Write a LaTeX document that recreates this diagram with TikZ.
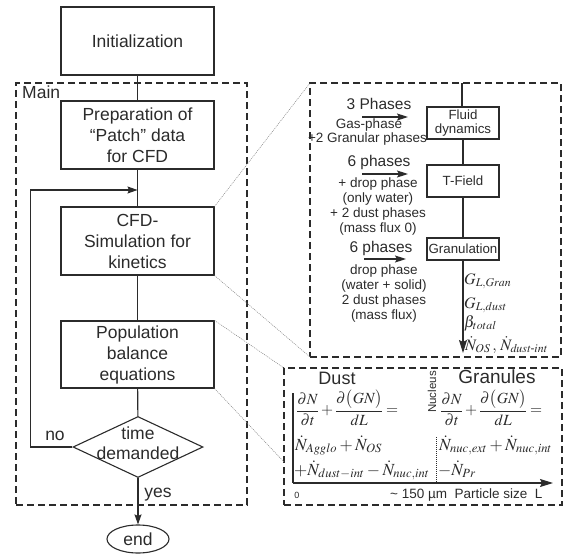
\documentclass[tikz,border=0pt]{standalone}
\usepackage{amsmath}
\usepackage{mathptmx}
\usepackage{fontspec}
\setmainfont{Liberation Sans}
\usetikzlibrary{arrows.meta,shapes.geometric,calc}
\definecolor{ink}{HTML}{2B2B2B}
\newcommand{\pdeq}{\medmuskip=2mu\relax\thickmuskip=3mu\relax\displaystyle \frac{\partial N}{\partial t}+\frac{\partial\bigl(GN\bigr)}{dL}=}
\begin{document}
\begin{tikzpicture}[x=1pt,y=-1pt,
  every node/.style={text=ink},
  box/.style={draw=ink, line width=1.1pt, minimum width=153pt, minimum height=68pt, align=center, inner sep=0pt, font=\fontsize{17.5}{21}\selectfont},
  sbox/.style={draw=ink, line width=1.1pt, minimum width=72pt, align=center, inner sep=0pt, font=\fontsize{13.3}{14.5}\selectfont},
  frame/.style={draw=ink, line width=1.4pt, dash pattern=on 7pt off 4pt, outer sep=0pt, inner sep=0pt},
  conn/.style={draw=ink, line width=1.1pt},
  tip/.style={-{Stealth[length=10pt,width=7pt,inset=1.5pt]}},
  zoomline/.style={draw=gray, line width=0.5pt, dash pattern=on 1pt off 1pt},
  lbl/.style={font=\fontsize{17.5}{20}\selectfont, inner sep=0pt},
  ph/.style={font=\fontsize{15.5}{17}\selectfont, inner sep=0pt},
  sm/.style={font=\fontsize{13.5}{15}\selectfont, inner sep=0pt, align=center},
  mth/.style={font=\fontsize{17}{20}\selectfont, inner sep=0pt},
  fracm/.style={font=\fontsize{15.5}{18}\selectfont, inner sep=0pt},
  mths/.style={font=\fontsize{16}{19}\selectfont, inner sep=0pt}
]
\useasboundingbox (0,0) rectangle (563,554);

% frames
\node[frame, minimum width=231pt, minimum height=422pt] (main) at (131.5,294) {};
\node[frame, minimum width=251pt, minimum height=274pt] (upper) at (435.5,220) {};
\node[frame, minimum width=278pt, minimum height=137pt] (lower) at (423,436.5) {};
\node[lbl, anchor=west] (mainlbl) at (22,92) {Main};

% left flow
\node[box] (init) at (137.5,41) {Initialization};
\node[box] (prep) at (137.5,135) {Preparation of\\``Patch'' data\\for CFD};
\node[box] (cfd) at (137.5,241) {CFD-\\Simulation for\\kinetics};
\node[box, minimum height=67pt] (pop) at (137.5,354.5) {Population\\balance\\equations};
\node[diamond, draw=ink, line width=1.1pt, minimum width=130pt, minimum height=61pt, inner sep=0pt] (dec) at (138,447) {};
\node[lbl, align=center] (dectxt) at (138,443) {time\\demanded};
\node[ellipse, draw=ink, line width=1.1pt, minimum width=62pt, minimum height=28pt, inner sep=0pt, font=\fontsize{17.5}{20}\selectfont] (end) at (138,539) {end};
\coordinate (loopin) at (137.5,190);

\draw[conn] (init) -- (prep);
\draw[conn] (prep) -- (cfd);
\draw[conn] (cfd) -- (pop);
\draw[conn] (pop) -- (dec);
\draw[conn, tip] (dec.west) -- ++(-42,0) |- (loopin);
\draw[conn, tip] (dec.south) -- (end.north);
\node[lbl] (no) at (55,436) {no};
\node[lbl] (yes) at (158,495) {yes};

% zoom lines
\coordinate (lowA) at (284,462);
\draw[zoomline] (cfd.north east) -- (upper.north west);
\draw[zoomline] (cfd.south east) -- (upper.south west);
\draw[zoomline] (pop.north east) -- (lower.north west);
\draw[zoomline] (pop.south east) -- (lowA);

% upper right detail
\coordinate (utop) at (462,83);
\node[sbox, minimum height=32pt] (fluid) at (463,123) {Fluid\\dynamics};
\node[sbox, minimum height=32pt] (tf) at (463,181) {T-Field};
\node[sbox, minimum height=22pt] (gran) at (463,249) {Granulation};
\coordinate (gout) at (463,353);
\draw[conn] (utop) -- (utop |- fluid.north);
\draw[conn] (fluid) -- (tf);
\draw[conn] (tf) -- (gran);
\draw[conn, -{Stealth[length=13pt,width=8pt,inset=2pt]}] (gran.south) -- (gout);

\node[ph] (p3) at (379,104) {3 Phases};
\coordinate (a1s) at (362,117); \coordinate (a1e) at (408,117);
\draw[conn, -{Stealth[length=11pt,width=7pt,inset=2pt]}] (a1s) -- (a1e);
\node[sm] (gp) at (369,125) {Gas-phase};
\node[sm] (gr) at (367.5,139) {+2 Granular phases};

\node[ph] (p6a) at (379,162) {6 phases};
\coordinate (a2s) at (362,174); \coordinate (a2e) at (408,174);
\draw[conn, -{Stealth[length=11pt,width=7pt,inset=2pt]}] (a2s) -- (a2e);
\node[sm] (t1) at (378,184) {+ drop phase};
\node[sm] (t2) at (378,199) {(only water)};
\node[sm] (t3) at (378,214) {+ 2 dust phases};
\node[sm] (t4) at (378,229) {(mass flux 0)};

\node[ph] (p6b) at (381,248) {6 phases};
\coordinate (a3s) at (364,259); \coordinate (a3e) at (406,259);
\draw[conn, -{Stealth[length=11pt,width=7pt,inset=2pt]}] (a3s) -- (a3e);
\node[sm] (u1) at (384,271) {drop phase};
\node[sm] (u2) at (384,286) {(water + solid)};
\node[sm] (u3) at (384,301) {2 dust phases};
\node[sm] (u4) at (384,316) {(mass flux)};

\node[mths, anchor=base west] (g1) at (464,284) {$G_{L,Gran}$};
\node[mths, anchor=base west] (g2) at (464,308) {$G_{L,dust}$};
\node[mths, anchor=base west] (g3) at (464,327) {$\beta_{total}$};
\node[mths, anchor=base west] (g4) at (465,350) {$\dot N_{OS}\,,\,\dot N_{\mathit{dust}\text{-}\mathit{int}}$};

% lower right detail
\node[lbl, font=\fontsize{18}{20}\selectfont] (dust) at (337,378) {Dust};
\node[lbl, font=\fontsize{19}{20}\selectfont] (granules) at (497,377) {Granules};
\node[inner sep=0pt, rotate=90, font=\fontsize{11.5}{12}\selectfont] (nucleus) at (432,392) {Nucleus};
\coordinate (org) at (293,483);
\coordinate (ytop) at (293,393);
\coordinate (xend) at (553,483);
\draw[conn] (ytop) -- (org);
\draw[conn, -{Stealth[length=13pt,width=8pt,inset=2pt]}] (org) -- (xend);
\coordinate (dtop) at (436,437);
\draw[ink, line width=0.6pt, dash pattern=on 1pt off 1pt] (dtop) -- (dtop |- org);
\node[inner sep=0pt, font=\fontsize{9}{10}\selectfont] (zero) at (297,495) {0};
\node[inner sep=0pt, anchor=west, font=\fontsize{13.5}{15}\selectfont] (psize) at (390,495) {\textasciitilde\ 150 µm\ \ Particle size\ \ L};

\node[fracm, anchor=west] (e1) at (296,408) {$\pdeq$};
\node[mth, anchor=base west] (e2) at (295,450) {$\dot N_{Agglo}+\dot N_{OS}$};
\node[mth, anchor=base west] (e3) at (294,475) {$+\dot N_{dust-int}-\dot N_{nuc,int}$};
\node[fracm, anchor=west] (f1) at (440,408) {$\pdeq$};
\node[mth, anchor=base west] (f2) at (439,450) {$\dot N_{nuc,ext}+\dot N_{nuc,int}$};
\node[mth, anchor=base west] (f3) at (438,475) {$-\dot N_{Pr}$};
\end{tikzpicture}
\end{document}
